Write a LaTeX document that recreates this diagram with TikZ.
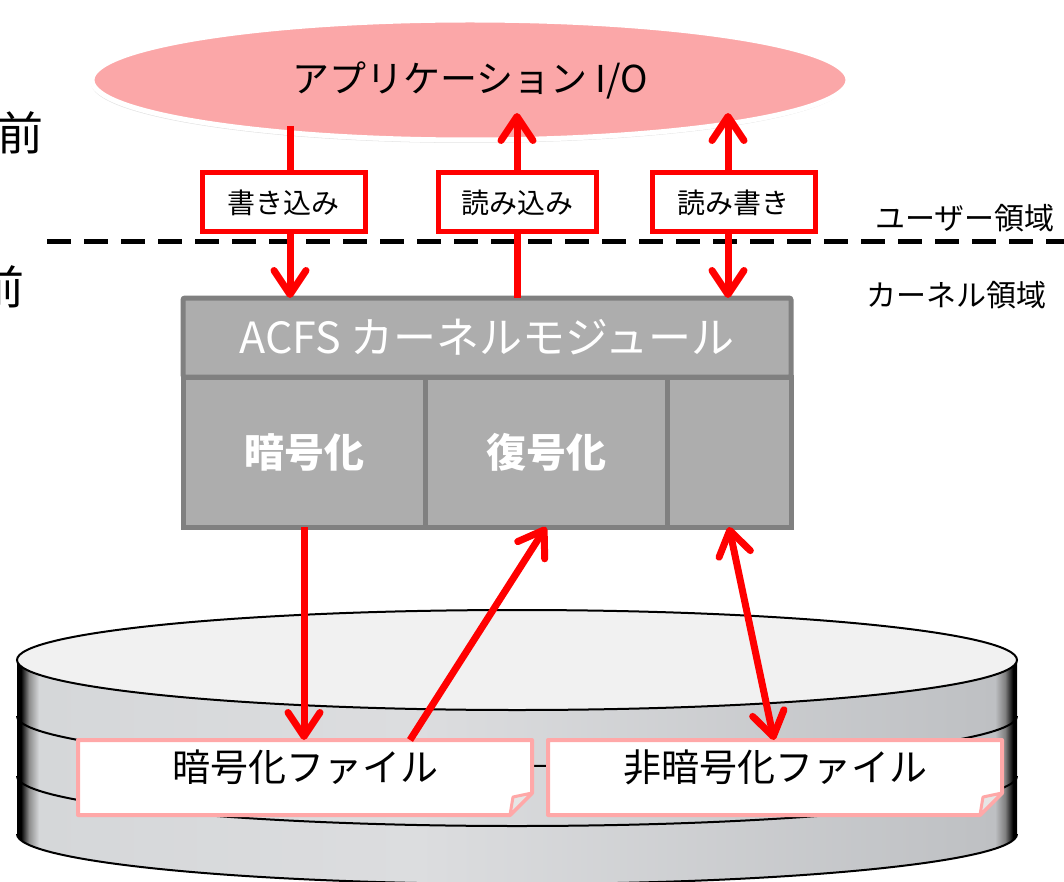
\documentclass[tikz,border=0pt]{standalone}
\usepackage{fontspec}
\setmainfont{Noto Sans CJK JP}
\usetikzlibrary{arrows.meta,shapes.geometric,shadows,calc}

\definecolor{appPink}{HTML}{FBA7A8}
\definecolor{ioRed}{HTML}{FF0000}
\definecolor{modFill}{HTML}{ADADAD}
\definecolor{modLine}{HTML}{808080}
\definecolor{noteLine}{HTML}{FFA8A8}
\definecolor{flapFill}{HTML}{E6E6E6}
\definecolor{diskTop}{HTML}{F1F1F1}
\definecolor{diskA}{HTML}{D5D7D9}
\definecolor{diskB}{HTML}{DCDDDF}
\definecolor{diskC}{HTML}{BEC0C3}

% side of the disk: dark rims left and right, light grey in between
\pgfdeclarehorizontalshading{diskside}{100bp}{color(0bp)=(black); color(25bp)=(black); color(25.2bp)=(black); color(25.6bp)=(black!45); color(26.1bp)=(diskA); color(45bp)=(diskB); color(73.9bp)=(diskC); color(74.4bp)=(black!50); color(74.8bp)=(black); color(100bp)=(black)}

\begin{document}
\begin{tikzpicture}[x=1pt,y=-1pt,
  barb/.tip={Straight Barb[length=24pt,width=32pt,round]},
  arr/.style={draw=ioRed, line width=7pt, -barb},
  arrboth/.style={draw=ioRed, line width=7pt, barb-barb},
  lbl/.style={draw=ioRed, fill=white, line width=5pt, minimum height=59pt,
    inner sep=0pt, outer sep=0pt, font=\fontsize{28pt}{30pt}\selectfont},
  modbox/.style={draw=modLine, fill=modFill, line width=5pt, inner sep=0pt,
    outer sep=0pt, text=white},
  filebox/.style={draw=noteLine, fill=white, line width=4pt, line join=round},
  fileflap/.style={draw=noteLine, fill=flapFill, line width=3pt, line join=round},
  filenote/.style={inner sep=0pt, outer sep=0pt, minimum height=75pt,
    font=\fontsize{38pt}{40pt}\selectfont, text height=34pt, text depth=26pt},
  rimline/.style={draw=black, line width=2pt},
  region/.style={font=\fontsize{30pt}{32pt}\selectfont, inner sep=0pt},
  side/.style={font=\fontsize{46pt}{48pt}\selectfont, inner sep=0pt}
]
\useasboundingbox (0,0) rectangle (1064,882);

% ---- characters at the left margin
\node[side] (preA) at (21,133) {前};
\node[side] (preB) at (2,287) {前};

% ---- user / kernel boundary
\coordinate (bndL) at (47,242);
\coordinate (bndR) at (1064,242);
\draw[line width=5pt, dash pattern=on 24pt off 13pt] (bndL) -- (bndR);
\node[region] (userSp) at (965,218) {ユーザー領域};
\node[region] (kernSp) at (956,295) {カーネル領域};

% ---- application ellipse
\node[ellipse, minimum width=756pt, minimum height=120pt, fill=appPink,
  draw=white, line width=5pt, inner sep=0pt,
  drop shadow={opacity=0.22, shadow xshift=-1pt, shadow yshift=-3pt},
  font=\fontsize{37pt}{40pt}\selectfont] (app) at (470,80) {アプリケーション I/O};

% ---- ACFS kernel module
\node[modbox, rounded corners=2pt, minimum width=608pt, minimum height=79pt,
  font=\fontsize{43pt}{45pt}\selectfont] (kmod) at (487,337.5) {ACFS カーネルモジュール};
\node[modbox, minimum width=242pt, minimum height=150pt,
  font=\fontsize{40pt}{42pt}\selectfont\bfseries] (enc) at (304,452) {暗号化};
\node[modbox, minimum width=242pt, minimum height=150pt,
  font=\fontsize{40pt}{42pt}\selectfont\bfseries] (dec) at (546,452) {復号化};
\node[modbox, minimum width=124pt, minimum height=150pt] (thr) at (729,452) {};

% ---- disk
\shade[shading=diskside] (17,660) -- (17,834)
  arc[start angle=180, end angle=0, x radius=500, y radius=50]
  -- (1017,660)
  arc[start angle=0, end angle=180, x radius=500, y radius=50] -- cycle;
\draw[rimline] (17,716) arc[start angle=180, end angle=0, x radius=500, y radius=50];
\draw[rimline] (17,776) arc[start angle=180, end angle=0, x radius=500, y radius=50];
\draw[rimline] (17,834) arc[start angle=180, end angle=0, x radius=500, y radius=50];
\filldraw[fill=diskTop, draw=black, line width=2pt] (517,660) ellipse[x radius=500, y radius=50];

% ---- file notes with a folded corner
\coordinate (encNW) at (78,740);
\coordinate (encSE) at (532,815);
\filldraw[filebox] (encNW) -- (encNW -| encSE) -- ($(encSE)+(0,-22)$)
  -- ($(encSE)+(-22,0)$) -- (encNW |- encSE) -- cycle;
\filldraw[fileflap] ($(encSE)+(0,-22)$) -- ($(encSE)+(-19,-18)$) -- ($(encSE)+(-22,0)$) -- cycle;
\node[filenote, minimum width=454pt] (encf) at ($(encNW)!0.5!(encSE)$) {暗号化ファイル};

\coordinate (plnNW) at (548,740);
\coordinate (plnSE) at (1002,815);
\filldraw[filebox] (plnNW) -- (plnNW -| plnSE) -- ($(plnSE)+(0,-22)$)
  -- ($(plnSE)+(-22,0)$) -- (plnNW |- plnSE) -- cycle;
\filldraw[fileflap] ($(plnSE)+(0,-22)$) -- ($(plnSE)+(-19,-18)$) -- ($(plnSE)+(-22,0)$) -- cycle;
\node[filenote, minimum width=454pt] (plnf) at ($(plnNW)!0.5!(plnSE)$) {非暗号化ファイル};

% ---- I/O between the application and the module
\coordinate (wrTop) at (290,126);
\coordinate (rdTop) at (517,113);
\coordinate (rwTop) at (728,113);
\draw[arr] (wrTop) -- (wrTop |- kmod.north);
\draw[arr] (rdTop |- kmod.north) -- (rdTop);
\draw[arrboth] (rwTop) -- (rwTop |- kmod.north);
\node[lbl, minimum width=163pt] (wrLbl) at (283.5,202.5) {書き込み};
\node[lbl, minimum width=158pt] (rdLbl) at (517,202.5) {読み込み};
\node[lbl, minimum width=163pt] (rwLbl) at (733.5,202.5) {読み書き};

% ---- I/O between the module and the files
\coordinate (decFrom) at (410,740);
\coordinate (rwLow) at (774,740);
\draw[arr] (enc.south) -- (enc.south |- encf.north);
\draw[arr] (decFrom) -- (dec.south);
\draw[arrboth] (thr.south) -- (rwLow);
\end{tikzpicture}
\end{document}
